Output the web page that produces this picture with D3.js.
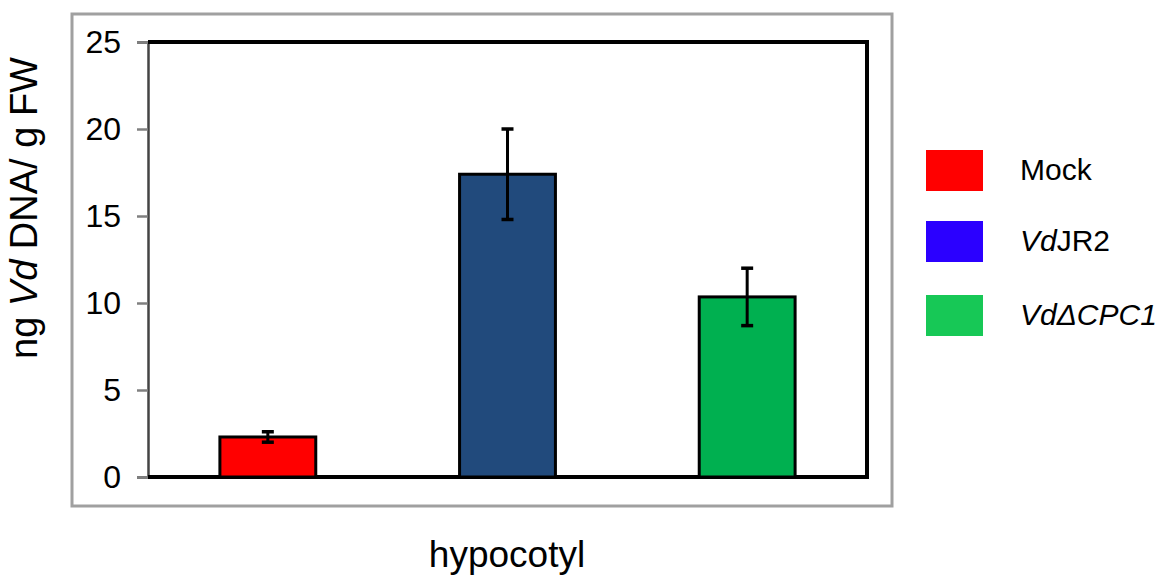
<!DOCTYPE html>
<html>
<head>
<meta charset="utf-8">
<script src="https://cdn.jsdelivr.net/npm/d3@7"></script>
<style>
  body { margin: 0; background: #fff; }
  text { font-family: Arial, "Liberation Sans", sans-serif; fill: #000; }
</style>
</head>
<body>
<script>
// data
var groups = ["Mock", "VdJR2", "VdCPC1"];
var means = [2.3, 17.4, 10.35];
var errs = [0.3, 2.6, 1.65];
var barColors = ["#ff0000", "#214a7c", "#00b050"];
var legendColors = ["#ff0000", "#2b00ff", "#17c856"];
var yTicks = [0, 5, 10, 15, 20, 25];

var W = 1162, H = 576;
var plot = {left: 148, right: 867, top: 42, bottom: 477};

var svg = d3.select("body").append("svg")
	.attr("width", W)
	.attr("height", H);

// outer gray frame
svg.append("rect")
	.attr("x", 72).attr("y", 14)
	.attr("width", 820).attr("height", 492)
	.attr("fill", "none")
	.attr("stroke", "#a0a0a0")
	.attr("stroke-width", 3);

var x = d3.scaleBand()
	.domain(groups)
	.range([plot.left, plot.right])
	.paddingInner(0.6)
	.paddingOuter(0.3);

var y = d3.scaleLinear()
	.domain([0, 25])
	.range([plot.bottom, plot.top]);

// y axis
var yAxis = d3.axisLeft(y)
	.tickValues(yTicks)
	.tickSize(11)
	.tickPadding(16);

var ga = svg.append("g")
	.attr("transform", "translate(" + plot.left + ",0)")
	.call(yAxis);
ga.select(".domain").attr("stroke", "#444").attr("stroke-width", 2.5);
ga.selectAll(".tick line").attr("stroke", "#808080").attr("stroke-width", 2.5);
ga.selectAll(".tick text")
	.attr("font-size", 32)
	.attr("font-family", "Arial, 'Liberation Sans', sans-serif")
	.attr("fill", "#000");

// top, right, bottom black lines
svg.append("path")
	.attr("d", "M" + plot.left + "," + y(25) + "H" + plot.right + "V" + y(0) + "H" + plot.left)
	.attr("fill", "none")
	.attr("stroke", "#000")
	.attr("stroke-width", 4);

// bars
svg.selectAll(".bar")
	.data(means)
	.enter().append("rect")
	.attr("class", "bar")
	.attr("x", function(d, i) { return x(groups[i]); })
	.attr("y", function(d) { return y(d); })
	.attr("width", x.bandwidth())
	.attr("height", function(d) { return y(0) - y(d); })
	.attr("fill", function(d, i) { return barColors[i]; })
	.attr("stroke", "#000")
	.attr("stroke-width", 3);

// error bars
var eb = svg.selectAll(".err")
	.data(means)
	.enter().append("g")
	.attr("class", "err")
	.attr("transform", function(d, i) { return "translate(" + (x(groups[i]) + x.bandwidth() / 2) + ",0)"; });

eb.append("line")
	.attr("y1", function(d, i) { return y(d + errs[i]); })
	.attr("y2", function(d, i) { return y(d - errs[i]); })
	.attr("stroke", "#000").attr("stroke-width", 3);
eb.append("line")
	.attr("x1", -6).attr("x2", 6)
	.attr("y1", function(d, i) { return y(d + errs[i]); })
	.attr("y2", function(d, i) { return y(d + errs[i]); })
	.attr("stroke", "#000").attr("stroke-width", 3.5);
eb.append("line")
	.attr("x1", -6).attr("x2", 6)
	.attr("y1", function(d, i) { return y(d - errs[i]); })
	.attr("y2", function(d, i) { return y(d - errs[i]); })
	.attr("stroke", "#000").attr("stroke-width", 3.5);

// axis titles
var yl = svg.append("text")
	.attr("text-anchor", "middle")
	.attr("transform", "translate(37,208)rotate(-90)")
	.attr("font-size", 38);
yl.append("tspan").text("ng ");
yl.append("tspan").attr("font-style", "italic").text("Vd");
yl.append("tspan").text(" DNA/ g FW");

svg.append("text")
	.attr("text-anchor", "middle")
	.attr("x", 507).attr("y", 567)
	.attr("font-size", 37)
	.text("hypocotyl");

// legend
var legY = [150, 221, 295];
var leg = svg.selectAll(".legend")
	.data(groups)
	.enter().append("g")
	.attr("class", "legend")
	.attr("transform", function(d, i) { return "translate(926," + legY[i] + ")"; });

leg.append("rect")
	.attr("width", 57).attr("height", 41)
	.attr("fill", function(d, i) { return legendColors[i]; });

var lt = leg.append("text")
	.attr("x", 94).attr("y", 19)
	.attr("dy", "0.35em")
	.attr("font-size", 30);

lt.each(function(d, i) {
	var t = d3.select(this);
	if (i == 0) {
		t.append("tspan").text("Mock");
	} else if (i == 1) {
		t.append("tspan").attr("font-style", "italic").text("Vd");
		t.append("tspan").text("JR2");
	} else {
		t.append("tspan").attr("font-style", "italic").text("Vd\u0394CPC1");
	}
});
</script>
</body>
</html>
